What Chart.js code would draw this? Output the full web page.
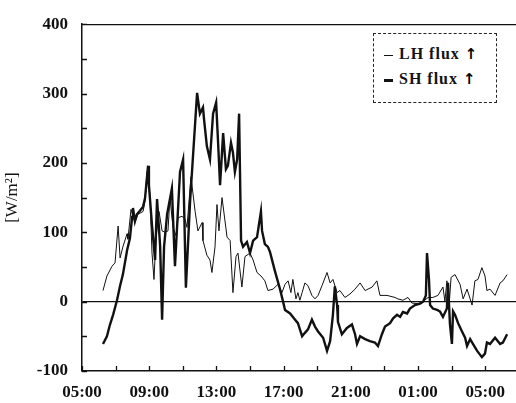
<!DOCTYPE html>
<html>
<head>
<meta charset="utf-8">
<script src="https://cdn.jsdelivr.net/npm/chart.js@4.4.0/dist/chart.umd.min.js"></script>
<style>
    body { margin: 0; background: #fff; }
    #wrap { position: relative; width: 516px; height: 403px; }
    #legend {
        position: absolute; left: 373px; top: 33px; width: 122px; height: 68px;
        border: 1px dashed #222; background: #fff; opacity: 0.99;
        font-family: "Liberation Serif", serif; font-weight: bold; font-size: 16px;
        letter-spacing: 1px; color: #111;
    }
    #legend div { position: absolute; left: 10px; white-space: nowrap; }
    #legend span.mark { display: inline-block; width: 9px; vertical-align: middle; margin-right: 6px; }
    #legend span.arrow { font-family: "DejaVu Sans", sans-serif; font-weight: bold; font-size: 15px; color: #000; }
</style>
</head>
<body>
<div id="wrap">
    <canvas id="fluxChart" width="516" height="403"></canvas>
    <div id="legend">
        <div style="top:11px"><span class="mark" style="border-top:1px solid #111"></span>LH flux <span class="arrow">&#x2191;</span></div>
        <div style="top:36px"><span class="mark" style="border-top:3px solid #111"></span>SH flux <span class="arrow">&#x2191;</span></div>
    </div>
</div>
<script>
// time of day (next day continues after midnight), values in W/m2
const shTimes = ["06:15","06:29","06:40","06:51","07:05","07:16","07:26","07:41","07:51","07:59",
    "08:02","08:09","08:16","08:27","08:38","08:45","08:56","08:59","09:10","09:21",
    "09:28","09:39","09:46","09:53","10:04","10:21","10:32","10:50","11:01","11:11",
    "11:26","11:51","12:01","12:12","12:16","12:26","12:37","12:48","12:59","13:06",
    "13:13","13:24","13:34","13:41","13:52","13:59","14:06","14:14","14:21","14:28",
    "14:35","14:49","15:00","15:11","15:25","15:39","15:43","15:53","16:04","16:11",
    "16:29","16:47","16:58","17:05","17:23","17:41","17:51","18:06","18:16","18:27",
    "18:41","18:52","19:03","19:21","19:35","19:46","19:56","20:03","20:11","20:14",
    "20:28","20:46","21:04","21:15","21:22","21:33","21:51","22:08","22:26","22:37",
    "22:51","23:02","23:20","23:31","23:45","23:56","00:06","00:21","00:31","00:49",
    "01:07","01:18","01:28","01:32","01:39","01:43","01:53","02:08","02:18","02:29",
    "02:43","02:47","02:54","03:01","03:05","03:12","03:23","03:37","03:48","03:55",
    "04:06","04:16","04:31","04:48","04:59","05:06","05:17","05:35","05:53","06:03",
    "06:18"];
const shValues = [-61,-50,-33,-19,2,23,39,74,91,122,
    135,116,126,131,137,149,196,168,110,60,
    148,80,-26,79,126,163,51,187,205,20,
    145,301,271,280,262,224,205,271,287,229,
    168,243,191,196,229,215,187,205,271,88,
    79,86,70,88,93,130,102,83,79,72,
    44,18,0,-12,-17,-26,-31,-50,-45,-40,
    -26,-36,-43,-52,-71,-57,-19,22,-5,-29,
    -47,-38,-33,-47,-61,-50,-54,-57,-59,-64,
    -47,-36,-31,-24,-19,-22,-15,-17,-10,-5,
    -3,0,9,70,32,-5,-10,-12,-14,-22,
    -10,27,-33,-61,-14,-19,-31,-43,-52,-64,
    -54,-61,-71,-80,-75,-59,-61,-52,-61,-59,
    -47];

const lhTimes = ["06:15","06:29","06:47","06:58","07:09","07:16","07:26","07:41","07:44","07:55",
    "08:09","08:20","08:38","08:45","08:52","08:56","09:03","09:10","09:17","09:24",
    "09:35","09:46","09:56","10:07","10:14","10:25","10:36","10:43","10:57","11:08",
    "11:15","11:29","11:44","11:54","12:09","12:12","12:26","12:37","12:44","12:55",
    "13:02","13:09","13:20","13:38","13:49","13:59","14:10","14:17","14:31","14:42",
    "15:00","15:11","15:18","15:25","15:39","15:53","16:04","16:22","16:40","16:54",
    "17:05","17:16","17:26","17:33","17:44","17:51","17:58","18:06","18:16","18:27",
    "18:41","18:52","19:03","19:17","19:35","19:46","19:56","20:11","20:21","20:39",
    "20:57","21:15","21:33","21:51","22:16","22:33","22:44","23:09","23:38","23:48",
    "00:06","00:24","00:38","01:00","01:18","01:36","01:53","02:11","02:29","02:36",
    "02:43","02:51","02:58","03:12","03:30","03:41","03:55","04:13","04:23","04:34",
    "04:48","04:59","05:06","05:17","05:35","05:53","06:03","06:18"];
const lhValues = [16,37,51,56,109,63,79,98,90,133,
    114,126,130,145,187,190,150,70,32,90,
    130,102,100,102,150,107,95,121,123,119,
    107,180,130,102,114,88,67,60,42,79,
    140,102,150,93,88,13,65,70,21,65,
    70,60,51,42,37,30,16,18,25,13,
    25,30,13,32,4,13,2,13,27,23,
    9,4,9,23,42,27,32,13,16,6,
    11,18,27,16,21,30,9,9,6,4,
    2,6,-2,-3,0,6,6,9,21,0,
    30,-5,35,39,25,4,18,-5,30,32,
    49,37,16,18,9,27,30,39];

const xTickHours = [5, 7, 9, 11, 13, 15, 17, 19, 21, 23, 25, 27, 29];
const xLabelHours = [5, 9, 13, 17, 21, 25, 29];
const yTickValues = [-100, -50, 0, 50, 100, 150, 200, 250, 300, 350, 400];
const yLabelValues = [-100, 0, 100, 200, 300, 400];

// "HH:MM" -> hours, rolling over past midnight
function toPoints(times, values) {
    let dayOffset = 0;
    let prev = -1;
    return times.map((t, i) => {
        const [h, m] = t.split(':').map(Number);
        let hrs = h + m / 60;
        if (hrs + dayOffset < prev) dayOffset += 24;
        hrs += dayOffset;
        prev = hrs;
        return { x: hrs, y: values[i] };
    });
}

function hourLabel(v) {
    const h = v % 24;
    return (h < 10 ? '0' : '') + h + ':00';
}

const FONT = { family: '"Liberation Serif", serif', size: 17, weight: 'bold' };

// inward tick marks and the top frame line
const frameTicks = {
    id: 'frameTicks',
    afterDraw(chart) {
        const { ctx, chartArea, scales } = chart;
        ctx.save();
        ctx.strokeStyle = '#111';
        ctx.lineWidth = 1.3;
        ctx.beginPath();
        ctx.moveTo(chartArea.left, chartArea.top + 0.5);
        ctx.lineTo(chartArea.right, chartArea.top + 0.5);
        yTickValues.forEach(v => {
            const y = Math.round(scales.y.getPixelForValue(v)) + 0.5;
            ctx.moveTo(chartArea.left, y);
            ctx.lineTo(chartArea.left + 5, y);
        });
        xTickHours.forEach(v => {
            const x = Math.round(scales.x.getPixelForValue(v)) + 0.5;
            ctx.moveTo(x, chartArea.bottom);
            ctx.lineTo(x, chartArea.bottom - 5);
        });
        ctx.stroke();
        ctx.restore();
    }
};

new Chart(document.getElementById('fluxChart').getContext('2d'), {
    type: 'line',
    data: {
        datasets: [
            {
                label: 'LH flux',
                data: toPoints(lhTimes, lhValues),
                borderColor: '#111',
                borderWidth: 1,
                pointRadius: 0,
                tension: 0,
            },
            {
                label: 'SH flux',
                data: toPoints(shTimes, shValues),
                borderColor: '#111',
                borderWidth: 2.4,
                pointRadius: 0,
                tension: 0,
            },
        ]
    },
    options: {
        responsive: false,
        animation: false,
        layout: { padding: { top: 15, right: 0, left: 0, bottom: 0 } },
        plugins: {
            legend: { display: false },
            tooltip: { enabled: false },
        },
        scales: {
            x: {
                type: 'linear',
                min: 5,
                max: 30.83,
                afterBuildTicks: axis => { axis.ticks = xTickHours.map(v => ({ value: v })); },
                afterFit: axis => { axis.height = 32; },
                grid: { display: false },
                border: { display: true, color: '#111', width: 1.5 },
                ticks: {
                    autoSkip: false,
                    maxRotation: 0,
                    padding: 3,
                    color: '#111',
                    font: FONT,
                    callback: v => xLabelHours.includes(v) ? hourLabel(v) : '',
                },
            },
            y: {
                min: -100,
                max: 400,
                afterBuildTicks: axis => { axis.ticks = yTickValues.map(v => ({ value: v })); },
                afterFit: axis => { axis.width = 82; },
                grid: {
                    drawTicks: false,
                    lineWidth: 1.2,
                    color: c => c.tick && c.tick.value === 0 ? '#111' : 'rgba(0,0,0,0)',
                },
                border: { display: true, color: '#111', width: 1.5 },
                title: {
                    display: true,
                    text: '[W/m²]',
                    color: '#111',
                    font: { family: '"Liberation Serif", serif', size: 17 },
                    padding: { top: 2, bottom: 0 },
                },
                ticks: {
                    padding: 14,
                    color: '#111',
                    font: FONT,
                    callback: v => yLabelValues.includes(v) ? String(v) : '',
                },
            },
        },
    },
    plugins: [frameTicks],
});
</script>
</body>
</html>
